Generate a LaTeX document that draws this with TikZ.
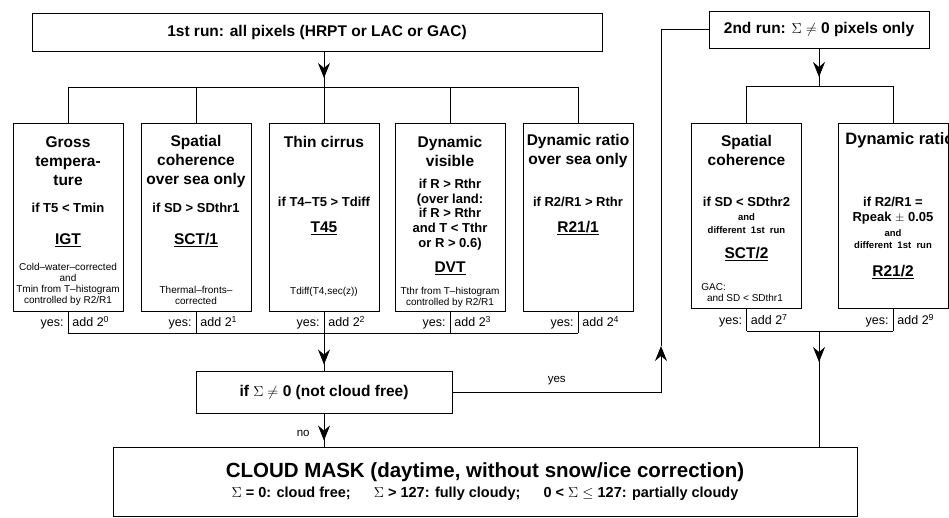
\documentclass[tikz,border=0pt]{standalone}
\usepackage{fontspec}
\setmainfont{Liberation Sans}
\usetikzlibrary{arrows.meta,decorations.markings,positioning}

\begin{document}
\begin{tikzpicture}[x=1pt,y=-1pt,line width=0.9pt,>={Stealth[length=15pt,width=12pt,inset=5pt]},
  box/.style={draw,inner sep=0pt,minimum width=110pt,minimum height=188pt},
  hd/.style={font=\fontsize{15.5}{19}\bfseries\selectfont,align=center,inner sep=0pt},
  cnd/.style={font=\fontsize{13}{14.8}\bfseries\selectfont,align=center,inner sep=0pt},
  cd/.style={font=\fontsize{15.5}{18}\bfseries\selectfont,inner sep=0pt},
  note/.style={font=\fontsize{10}{11}\selectfont,align=center,inner sep=0pt},
  sml/.style={font=\fontsize{9.5}{12.5}\bfseries\selectfont,align=center,inner sep=0pt},
  yes/.style={font=\fontsize{12.5}{14}\selectfont,inner sep=0pt},
  mid/.style={postaction={decorate},decoration={markings,
    mark=at position #1 with {\arrow{>}}}}]
\useasboundingbox (0,0) rectangle (949,518);
\tikzstyle{runbox}=[draw,font=\fontsize{15.5}{17}\bfseries\selectfont]

\node[runbox,minimum width=570pt,minimum height=38pt] (run1) at (317,32) {1st run: all pixels (HRPT or LAC or GAC)};
\node[runbox,minimum width=220pt,minimum height=37pt] (run2) at (819,29.5) {2nd run: $\Sigma\neq$ 0 pixels only};

\coordinate (top1) at (324,87);
\coordinate (bot1) at (324,333);
\coordinate (top2) at (819,86);
\coordinate (bot2) at (819,331);
\coordinate (uptip) at (661,346);

\foreach \i/\x in {1/68,2/196,3/324,4/450,5/578}{\node[box] (b\i) at (\x,217) {};}
\node[box,minimum height=185pt] (c1) at (746.5,215.5) {};
\node[box,minimum height=185pt] (c2) at (893,215.5) {};

% first run tests
\node[hd] (h1) at (68,161) {Gross\\tempera-\\ture};
\node[cnd] (k1) at (68,208) {if T5 < Tmin};
\node[cd] (g1) at (68,240) {\underline{IGT}};
\node[note,anchor=south] (n1) at (68,306) {Cold--water--corrected\\and\\Tmin from T--histogram\\controlled by R2/R1};

\node[hd] (h2) at (196,161) {Spatial\\coherence\\over sea only};
\node[cnd] (k2) at (196,208) {if SD > SDthr1};
\node[cd] (g2) at (196,240) {\underline{SCT/1}};
\node[note,anchor=south] (n2) at (196,305) {Thermal--fronts--\\corrected};

\node[hd] (h3) at (324,142) {Thin cirrus};
\node[cnd] (k3) at (324,202) {if T4--T5 > Tdiff};
\node[cd] (g3) at (324,228) {\underline{T45}};
\node[note] (n3) at (324,292) {Tdiff(T4,sec(z))};

\node[hd] (h4) at (450,151) {Dynamic\\visible};
\node[cnd] (k4) at (450,214.5) {if R > Rthr\\(over land:\\if R > Rthr\\and T < Tthr\\or R > 0.6)};
\node[cd] (g4) at (450,268) {\underline{DVT}};
\node[note,anchor=south] (n4) at (450,308) {Tthr from T--histogram\\controlled by R2/R1};

\node[hd] (h5) at (578,151) {Dynamic ratio\\over sea only};
\node[cnd] (k5) at (578,202) {if R2/R1 > Rthr};
\node[cd] (g5) at (578,228) {\underline{R21/1}};

% second run tests
\node[hd] (h6) at (746.5,150) {Spatial\\coherence};
\node[cnd] (k6) at (746.5,202) {if SD < SDthr2};
\node[sml] (s6) at (746.5,223.5) {and\\different\ \ 1st\ \ run};
\node[cd] (g6) at (746.5,254) {\underline{SCT/2}};
\node[note,align=left,anchor=west] (n6) at (701,292.5) {GAC:\\\ \ and SD < SDthr1};

\node[hd,font=\fontsize{16.5}{19}\bfseries\selectfont,anchor=west] (h7) at (845,140) {Dynamic ratio};
\node[cnd] (k7) at (893,210.5) {if R2/R1 =\\Rpeak $\pm$ 0.05};
\node[sml] (s7) at (893,239) {and\\different\ \ 1st\ \ run};
\node[cd] (g7) at (893,272) {\underline{R21/2}};

% branches
\draw[mid=-9pt] (run1.south -| top1) -- (top1);
\draw (b1.north |- top1) -- (b5.north |- top1);
\foreach \i in {1,...,5}{\draw (b\i.north |- top1) -- (b\i.north);}
\draw[mid=-9pt] (run2.south -| top2) -- (top2);
\draw (c1.north |- top2) -- (c2.north |- top2);
\foreach \i in {1,2}{\draw (c\i.north |- top2) -- (c\i.north);}

% yes: add 2^k
\foreach \b/\k/\e in {b1/0/bot1,b2/1/bot1,b3/2/bot1,b4/3/bot1,b5/4/bot1,c1/7/bot2,c2/9/bot2}{
  \draw (\b.south) -- (\b.south |- \e);
  \path (\b.south |- \e) ++(-4,-6.5) node[yes,anchor=base east] (y\b) {yes:};
  \path (\b.south |- \e) ++(4,-6.5) node[yes,anchor=base west] (a\b) {add 2\textsuperscript{\k}};
}
\draw (b1.south |- bot1) -- (b5.south |- bot1);
\draw (c1.south |- bot2) -- (c2.south |- bot2);

\node[draw,minimum width=256pt,minimum height=42pt,font=\fontsize{15.5}{17}\bfseries\selectfont] (ifb) at (324,392) {if $\Sigma\neq$ 0 (not cloud free)};
\node[draw,minimum width=744pt,minimum height=69pt,align=center] (mask) at (485,481.5)
  {{\fontsize{20.5}{22}\bfseries\selectfont CLOUD MASK (daytime, without snow/ice correction)}\\[5pt]
   {\fontsize{14.5}{15}\bfseries\selectfont $\Sigma$ = 0: cloud free;\hspace{1.6em}$\Sigma$ > 127: fully cloudy;\hspace{1.6em}0 < $\Sigma$ $\leq$ 127: partially cloudy}};

\draw[mid=-6pt] (bot1) -- (ifb.north);
\draw[mid=-6pt] (ifb.south) -- node[yes,font=\fontsize{11.5}{13}\selectfont,pos=0.6,left=14pt] (no) {no} (ifb.south |- mask.north);
\draw[->] (ifb.east) -| node[yes,font=\fontsize{11.5}{13}\selectfont,pos=0.25,above=7pt] (yl) {yes} (uptip);
\draw (uptip) |- (run2.west);
\draw[mid=31pt] (bot2) -- (bot2 |- mask.north);
\end{tikzpicture}
\end{document}
